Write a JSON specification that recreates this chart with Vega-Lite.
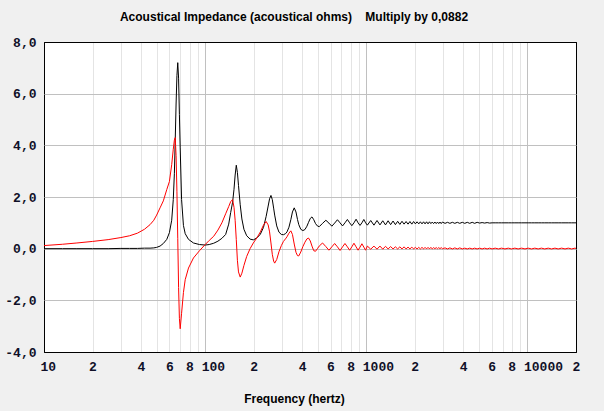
{
"$schema":"https://vega.github.io/schema/vega-lite/v6.json",
"width":532,"height":310,
"autosize":{"type":"none"},
"padding":{"left":44,"top":42,"right":28,"bottom":59},
"background":"#f0f0f0",
"title":{"text":"Acoustical Impedance (acoustical ohms)\u00a0\u00a0\u00a0\u00a0Multiply by 0,0882","font":"Liberation Sans","fontSize":12,"fontWeight":"bold","color":"#000000","anchor":"middle","frame":"group","dx":-16,"offset":12},
"config":{"view":{"stroke":"#000000","fill":"#ffffff","strokeWidth":1}},
"data":{"values":[
{"f":10,"R":0,"X":0.12},{"f":13,"R":0,"X":0.17},{"f":16,"R":0,"X":0.22},{"f":20,"R":0,"X":0.28},{"f":25,"R":0,"X":0.35},
{"f":30,"R":0.01,"X":0.43},{"f":34,"R":0.01,"X":0.5},{"f":38,"R":0.01,"X":0.6},{"f":42,"R":0.02,"X":0.75},{"f":45.5,"R":0.02,"X":0.93},
{"f":48,"R":0.03,"X":1.1},{"f":50,"R":0.05,"X":1.3},{"f":52.5,"R":0.1,"X":1.58},{"f":55,"R":0.2,"X":1.85},{"f":57.8,"R":0.36,"X":2.29},
{"f":60,"R":0.62,"X":2.6},{"f":62,"R":1.1,"X":3.25},{"f":63.4,"R":1.9,"X":3.85},{"f":64.4,"R":2.9,"X":4.2},{"f":65.2,"R":4.2,"X":4.3},
{"f":66,"R":5.6,"X":3.6},{"f":66.8,"R":6.7,"X":2.2},{"f":67.6,"R":7.2,"X":0.4},{"f":68.4,"R":6.6,"X":-1.5},{"f":69.2,"R":5.2,"X":-2.7},
{"f":70,"R":3.9,"X":-3.1},{"f":71.4,"R":1.9,"X":-2.5},{"f":73.3,"R":0.9,"X":-1.7},{"f":75.2,"R":0.58,"X":-1.2},{"f":78.8,"R":0.36,"X":-0.75},
{"f":84.6,"R":0.22,"X":-0.36},{"f":92.2,"R":0.16,"X":-0.08},{"f":100,"R":0.14,"X":0.16},{"f":106,"R":0.16,"X":0.32},{"f":113,"R":0.21,"X":0.48},
{"f":120,"R":0.29,"X":0.72},{"f":127,"R":0.4,"X":1.0},{"f":134,"R":0.55,"X":1.35},{"f":140,"R":0.95,"X":1.63},{"f":144,"R":1.4,"X":1.82},
{"f":148,"R":1.8,"X":1.9},{"f":151,"R":2.3,"X":1.6},{"f":153.5,"R":2.85,"X":1.1},{"f":156,"R":3.23,"X":0.35},{"f":158.5,"R":2.95,"X":-0.45},
{"f":161,"R":2.45,"X":-0.9},{"f":165,"R":1.7,"X":-1.1},{"f":169,"R":1.15,"X":-0.95},{"f":174,"R":0.75,"X":-0.65},{"f":181,"R":0.5,"X":-0.3},
{"f":190,"R":0.37,"X":0},{"f":199,"R":0.34,"X":0.22},{"f":210,"R":0.42,"X":0.43},{"f":220,"R":0.56,"X":0.65},{"f":230,"R":0.82,"X":0.91},
{"f":239,"R":1.25,"X":1.05},{"f":246,"R":1.65,"X":0.92},{"f":251,"R":1.93,"X":0.65},{"f":256,"R":2.06,"X":0.22},{"f":261,"R":1.9,"X":-0.22},
{"f":266,"R":1.57,"X":-0.48},{"f":270,"R":1.3,"X":-0.56},{"f":278,"R":0.88,"X":-0.42},{"f":287,"R":0.64,"X":-0.12},{"f":297,"R":0.55,"X":0.12},
{"f":306,"R":0.54,"X":0.28},{"f":315,"R":0.58,"X":0.38},{"f":322,"R":0.65,"X":0.46},{"f":331,"R":0.83,"X":0.6},{"f":340,"R":1.12,"X":0.69},
{"f":348,"R":1.42,"X":0.55},{"f":357,"R":1.58,"X":0.18},{"f":366,"R":1.42,"X":-0.14},{"f":374,"R":1.13,"X":-0.27},{"f":381,"R":0.93,"X":-0.28},
{"f":392,"R":0.75,"X":-0.13},{"f":404,"R":0.7,"X":0.08},{"f":416,"R":0.74,"X":0.25},{"f":428,"R":0.87,"X":0.38},{"f":438,"R":1.02,"X":0.41},
{"f":449,"R":1.17,"X":0.3},{"f":460,"R":1.23,"X":0.1},{"f":472,"R":1.12,"X":-0.08},{"f":484,"R":0.97,"X":-0.1},{"f":497,"R":0.88,"X":0},
{"f":510,"R":0.85,"X":0.1},{"f":535,"R":0.98,"X":0.22},{"f":561,"R":1.1,"X":0.08},{"f":586,"R":0.99,"X":-0.06},{"f":611,"R":0.87,"X":0.07},
{"f":636,"R":0.99,"X":0.2},{"f":662,"R":1.12,"X":0.07},{"f":687,"R":1.0,"X":-0.07},{"f":712,"R":0.88,"X":0.07},{"f":737,"R":1.0,"X":0.2},
{"f":763,"R":1.13,"X":0.07},{"f":788,"R":1.0,"X":-0.06},{"f":813,"R":0.89,"X":0.07},{"f":838,"R":1.0,"X":0.21},{"f":864,"R":1.14,"X":0.07},
{"f":889,"R":1.0,"X":-0.06},{"f":914,"R":0.9,"X":0.06},{"f":939,"R":1.0,"X":0.19},{"f":965,"R":1.13,"X":0.06},{"f":990,"R":1.0,"X":-0.06},
{"f":1015,"R":0.91,"X":0.1},{"f":1065,"R":1.09,"X":-0.02},{"f":1115,"R":0.91,"X":0.1},{"f":1165,"R":1.09,"X":-0.02},{"f":1215,"R":0.92,"X":0.1},
{"f":1265,"R":1.08,"X":-0.02},{"f":1315,"R":0.92,"X":0.09},{"f":1365,"R":1.08,"X":-0.01},{"f":1415,"R":0.93,"X":0.08},{"f":1465,"R":1.07,"X":-0.01},
{"f":1515,"R":0.93,"X":0.07},{"f":1565,"R":1.06,"X":-0.01},{"f":1615,"R":0.94,"X":0.07},{"f":1665,"R":1.06,"X":-0.01},{"f":1715,"R":0.95,"X":0.07},
{"f":1765,"R":1.05,"X":-0.01},{"f":1815,"R":0.95,"X":0.06},{"f":1865,"R":1.05,"X":-0.01},{"f":1915,"R":0.95,"X":0.06},{"f":1965,"R":1.05,"X":-0.01},
{"f":2015,"R":0.96,"X":0.05},{"f":2065,"R":1.04,"X":-0.01},{"f":2115,"R":0.96,"X":0.05},{"f":2165,"R":1.04,"X":-0.01},{"f":2215,"R":0.96,"X":0.05},
{"f":2265,"R":1.04,"X":-0.01},{"f":2315,"R":0.96,"X":0.05},{"f":2365,"R":1.04,"X":-0.01},{"f":2415,"R":0.96,"X":0.05},{"f":2465,"R":1.04,"X":-0.01},
{"f":2515,"R":0.97,"X":0.05},{"f":2565,"R":1.03,"X":-0.01},{"f":2615,"R":0.97,"X":0.04},{"f":2665,"R":1.03,"X":0},{"f":2715,"R":0.97,"X":0.04},
{"f":2765,"R":1.03,"X":0},{"f":2815,"R":0.97,"X":0.04},{"f":2865,"R":1.03,"X":0},{"f":2915,"R":0.97,"X":0.04},{"f":2965,"R":1.03,"X":0},
{"f":3080,"R":0.98,"X":0.03},{"f":3190,"R":1.02,"X":-0.01},{"f":3300,"R":0.98,"X":0.03},{"f":3420,"R":1.02,"X":-0.01},{"f":3540,"R":0.98,"X":0.03},
{"f":3670,"R":1.02,"X":-0.01},{"f":3800,"R":0.98,"X":0.03},{"f":3940,"R":1.02,"X":-0.01},{"f":4080,"R":0.98,"X":0.02},{"f":4230,"R":1.02,"X":-0.01},
{"f":4380,"R":0.98,"X":0.02},{"f":4540,"R":1.02,"X":-0.01},{"f":4700,"R":0.98,"X":0.02},{"f":4870,"R":1.02,"X":-0.01},{"f":5050,"R":0.99,"X":0.02},
{"f":5230,"R":1.01,"X":-0.01},{"f":5420,"R":0.99,"X":0.02},{"f":5620,"R":1.01,"X":-0.01},{"f":5820,"R":0.99,"X":0.02},{"f":6030,"R":1.0,"X":-0.01},
{"f":6300,"R":1,"X":0.02},{"f":6600,"R":1,"X":-0.01},{"f":6900,"R":1,"X":0.02},{"f":7250,"R":1,"X":-0.01},{"f":7600,"R":1,"X":0.02},
{"f":7950,"R":1,"X":-0.01},{"f":8350,"R":1,"X":0.02},{"f":8750,"R":1,"X":-0.01},{"f":9200,"R":1,"X":0.02},{"f":9650,"R":1,"X":-0.01},
{"f":10100,"R":1,"X":0.02},{"f":10600,"R":1,"X":-0.01},{"f":11100,"R":1,"X":0.02},{"f":11650,"R":1,"X":-0.01},{"f":12200,"R":1,"X":0.02},
{"f":12800,"R":1,"X":-0.01},{"f":13450,"R":1,"X":0.02},{"f":14100,"R":1,"X":-0.01},{"f":14800,"R":1,"X":0.02},{"f":15500,"R":1,"X":-0.01},
{"f":16300,"R":1,"X":0.02},{"f":17100,"R":1,"X":-0.01},{"f":17900,"R":1,"X":0.02},{"f":18800,"R":1,"X":-0.01},{"f":19700,"R":1,"X":0.02},
{"f":20000,"R":1,"X":0.01}
]},
"transform":[{"fold":["R","X"],"as":["s","v"]}],
"mark":{"type":"line","strokeWidth":1,"interpolate":"linear","clip":true},
"encoding":{
"x":{"field":"f","type":"quantitative","scale":{"type":"log","domain":[10,20000],"nice":false},
"axis":{"values":[10,20,30,40,50,60,70,80,90,100,200,300,400,500,600,700,800,900,1000,2000,3000,4000,5000,6000,7000,8000,9000,10000,20000],
"grid":true,
"gridColor":{"condition":[{"test":"datum.value==10||datum.value==20000","value":"#000000"},{"test":"datum.value==100||datum.value==1000||datum.value==10000","value":"#c0c0c0"}],"value":"#e4e4e4"},
"ticks":false,"domain":false,
"labelExpr":"indexof([10,100,1000,10000],datum.value)>=0 ? ''+datum.value : (indexof([20,40,60,80,200,400,600,800,2000,4000,6000,8000,20000],datum.value)>=0 ? substring(''+datum.value,0,1) : '')",
"labelAlign":"left","labelOffset":-4,"labelFont":"Liberation Mono","labelFontSize":13,"labelFontWeight":"bold","labelColor":"#101028",
"labelPadding":8,"labelOverlap":false,"labelBound":false,"labelFlush":false,
"title":"Frequency (hertz)","titleFont":"Liberation Sans","titleFontSize":12,"titleFontWeight":"bold","titleColor":"#000000",
"titleX":250,"titleY":46,"titleBaseline":"middle","titleAlign":"center"}},
"y":{"field":"v","type":"quantitative","scale":{"domain":[-4,8],"nice":false,"zero":false},
"axis":{"values":[-4,-2,0,2,4,6,8],"grid":true,
"gridColor":{"condition":{"test":"datum.value==8||datum.value==-4","value":"#000000"},"value":"#c0c0c0"},
"ticks":false,"domain":false,"labelExpr":"datum.value + ',0'",
"labelFont":"Liberation Mono","labelFontSize":13,"labelFontWeight":"bold","labelColor":"#101028","labelPadding":8,
"labelOverlap":false,"labelBound":false,"labelFlush":false,"title":null}},
"color":{"field":"s","type":"nominal","scale":{"domain":["R","X"],"range":["#000000","#ff0000"]},"legend":null}
}
}
